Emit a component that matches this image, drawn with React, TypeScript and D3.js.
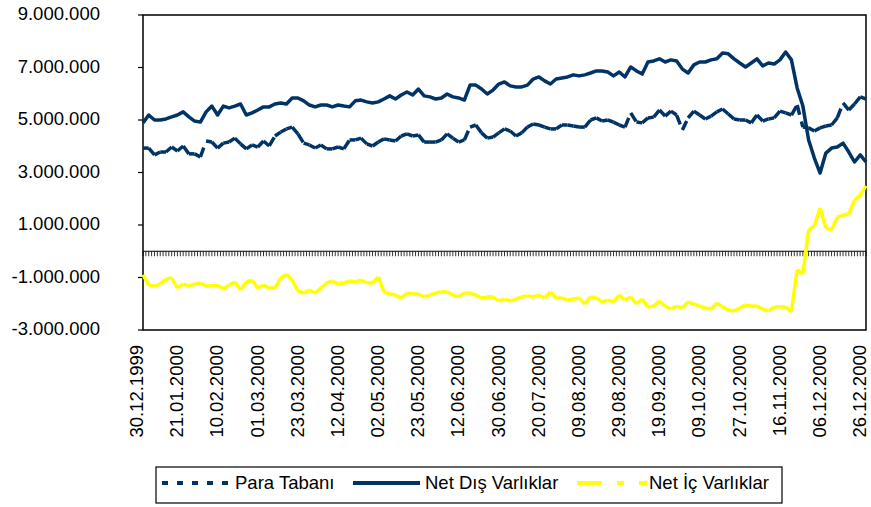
import React from 'react';
import * as d3 from 'd3';

// category axis: one point per business day, a date label on every 14th day
const dayCount = 253;
const labelStep = 14;
const sampleStep = 2;
const dateLabels = [
  '30.12.1999', '21.01.2000', '10.02.2000', '01.03.2000', '23.03.2000',
  '12.04.2000', '02.05.2000', '23.05.2000', '12.06.2000', '30.06.2000',
  '20.07.2000', '09.08.2000', '29.08.2000', '19.09.2000', '09.10.2000',
  '27.10.2000', '16.11.2000', '06.12.2000', '26.12.2000',
];
const yTicks = [-3000000, -1000000, 1000000, 3000000, 5000000, 7000000, 9000000];

// values in thousand TL
const paraTabani = [
  3930, 3930, 3670, 3780, 3780, 3970, 3820, 4010, 3710, 3710,
  3590, 4200, 4160, 3930, 4120, 4160, 4310, 4090, 3900, 4050,
  3970, 4200, 4010, 4390, 4540, 4660, 4730, 4470, 4120, 4050,
  3930, 4050, 3900, 3900, 3970, 3900, 4240, 4240, 4310, 4090,
  4010, 4160, 4280, 4240, 4200, 4390, 4470, 4390, 4430, 4160,
  4160, 4160, 4240, 4470, 4310, 4160, 4240, 4730, 4810, 4510,
  4310, 4350, 4510, 4660, 4580, 4390, 4510, 4730, 4850, 4810,
  4730, 4660, 4660, 4810, 4810, 4770, 4730, 4730, 5000, 5080,
  4960, 5000, 4920, 4810, 4730, 5270, 4920, 4890, 5080, 5110,
  5380, 5150, 5340, 5190, 4620, 5080, 5340, 5190, 5040, 5150,
  5310, 5420, 5230, 5040, 5000, 5000, 4890, 5190, 4960, 5040,
  5080, 5340, 5270, 5190, 5570, 4730, 4700, 4580, 4700, 4770,
  4810, 5080, 5650, 5380, 5610, 5880, 5800,
];
const netDis = [
  4890, 5190, 5000, 5000, 5040, 5120, 5190, 5310, 5120, 4960,
  4920, 5310, 5530, 5190, 5530, 5460, 5530, 5610, 5190, 5270,
  5380, 5500, 5500, 5610, 5650, 5610, 5840, 5840, 5730, 5570,
  5500, 5570, 5570, 5500, 5570, 5530, 5500, 5730, 5760, 5690,
  5650, 5690, 5800, 5920, 5800, 5950, 6070, 5950, 6180, 5920,
  5880, 5800, 5840, 5990, 5880, 5840, 5760, 6330, 6330, 6180,
  5990, 6140, 6370, 6450, 6300, 6260, 6260, 6330, 6560, 6640,
  6490, 6370, 6560, 6600, 6640, 6720, 6680, 6720, 6790, 6870,
  6870, 6830, 6680, 6830, 6640, 7020, 6870, 6750, 7210, 7250,
  7330, 7210, 7290, 7250, 6940, 6790, 7100, 7210, 7210, 7290,
  7330, 7550, 7520, 7330, 7170, 7020, 7170, 7330, 7060, 7170,
  7130, 7290, 7590, 7290, 6220, 5530, 4240, 3550, 2980, 3740,
  3930, 3970, 4120, 3780, 3400, 3670, 3400,
];
const netIc = [
  -900, -1290, -1320, -1250, -1060, -1020, -1400, -1250, -1320, -1250,
  -1210, -1320, -1320, -1290, -1440, -1290, -1170, -1480, -1170, -1100,
  -1400, -1290, -1400, -1400, -1020, -870, -1100, -1510, -1590, -1480,
  -1590, -1400, -1210, -1130, -1250, -1210, -1130, -1170, -1100, -1210,
  -1210, -980, -1550, -1630, -1670, -1780, -1590, -1630, -1630, -1740,
  -1670, -1590, -1550, -1550, -1670, -1740, -1590, -1590, -1670, -1780,
  -1740, -1740, -1900, -1820, -1900, -1820, -1740, -1700, -1740, -1670,
  -1780, -1550, -1780, -1780, -1860, -1820, -1780, -2010, -1740, -1780,
  -1930, -1860, -1930, -1670, -1860, -1740, -2010, -1820, -2120, -2090,
  -1900, -2090, -2200, -2090, -2160, -1930, -2010, -2090, -2160, -2200,
  -1970, -2120, -2240, -2280, -2160, -2050, -2090, -2090, -2200, -2280,
  -2120, -2120, -2120, -2310, -710, -870, 810, 960, 1650, 890,
  810, 1300, 1380, 1420, 1950, 2140, 2490,
];

const navy = '#003366';
const yellow = '#ffff00';
const font = '"Liberation Sans", Arial, sans-serif';

const W = 871;
const H = 507;
const plot = { left: 143, right: 866, top: 15, bottom: 330 };

const trFormat = d3.formatLocale({
  decimal: ',', thousands: '.', grouping: [3], currency: ['', ''], minus: '-',
}).format(',d');

const x = d3.scalePoint<number>().domain(d3.range(dayCount)).range([plot.left, plot.right]);
const y = d3.scaleLinear().domain([-3000000, 9000000]).range([plot.bottom, plot.top]);

const toPoints = (vals: number[]): [number, number][] =>
  vals.map((v, k) => [x(k * sampleStep) as number, y(v * 1000)]);

// Excel restarts the dash pattern on every segment, so draw them one by one
const DashedSeries = ({ vals, color, dash, width }) => (
  <g>
    {d3.pairs(toPoints(vals)).map(([a, b], i) => (
      <line key={i} x1={a[0]} y1={a[1]} x2={b[0]} y2={b[1]}
        stroke={color} strokeWidth={width} strokeDasharray={dash} />
    ))}
  </g>
);

export default function App() {
  const line = d3.line();
  const zeroY = y(0);
  const legendY = 483;

  return (
    <svg width={W} height={H} style={{ position: 'absolute', left: 0, top: 0, background: '#fff' }}
      fontFamily={font}>
      {/* plot frame */}
      <rect x={plot.left} y={plot.top} width={plot.right - plot.left} height={plot.bottom - plot.top}
        fill="none" stroke="#000" strokeWidth={1.5} />

      {/* y axis */}
      {yTicks.map((t) => (
        <g key={t}>
          <line x1={plot.left - 5} x2={plot.left} y1={y(t)} y2={y(t)} stroke="#000" strokeWidth={1.2} />
          <text x={100} y={y(t) + 5} textAnchor="end" fontSize={18.5} fill="#000">{trFormat(t)}</text>
        </g>
      ))}

      {/* category axis on the zero line */}
      {d3.range(dayCount).map((i) => (
        <line key={i} x1={x(i)} x2={x(i)} y1={zeroY} y2={zeroY + 5} stroke="#000" strokeWidth={0.8} />
      ))}
      <line x1={plot.left} x2={plot.right} y1={zeroY} y2={zeroY} stroke="#000" strokeWidth={1.2} />

      {dateLabels.map((d, i) => (
        <text key={d} transform={`translate(${x(i * labelStep)},345) rotate(-90)`}
          textAnchor="end" fontSize={18.5} fill="#000">{d}</text>
      ))}

      {/* series */}
      <DashedSeries vals={netIc} color={yellow} dash="45,12,7,12" width={3.5} />
      <DashedSeries vals={paraTabani} color={navy} dash="10,7" width={3.5} />
      <path d={line(toPoints(netDis)) || ''} fill="none" stroke={navy} strokeWidth={3.5}
        strokeLinejoin="round" />

      {/* legend */}
      <rect x={156} y={467} width={626} height={36} fill="#fff" stroke="#000" strokeWidth={1.2} />
      <line x1={162} x2={231} y1={legendY} y2={legendY} stroke={navy} strokeWidth={4} strokeDasharray="6,9" />
      <text x={235} y={legendY + 6} fontSize={18.5}>Para Tabanı</text>
      <line x1={353} x2={420} y1={legendY} y2={legendY} stroke={navy} strokeWidth={4} />
      <text x={425} y={legendY + 6} fontSize={18.5}>Net Dış Varlıklar</text>
      <line x1={577} x2={647} y1={legendY} y2={legendY} stroke={yellow} strokeWidth={4} strokeDasharray="25,15,7,15" />
      <text x={649} y={legendY + 6} fontSize={18.5}>Net İç Varlıklar</text>
    </svg>
  );
}
